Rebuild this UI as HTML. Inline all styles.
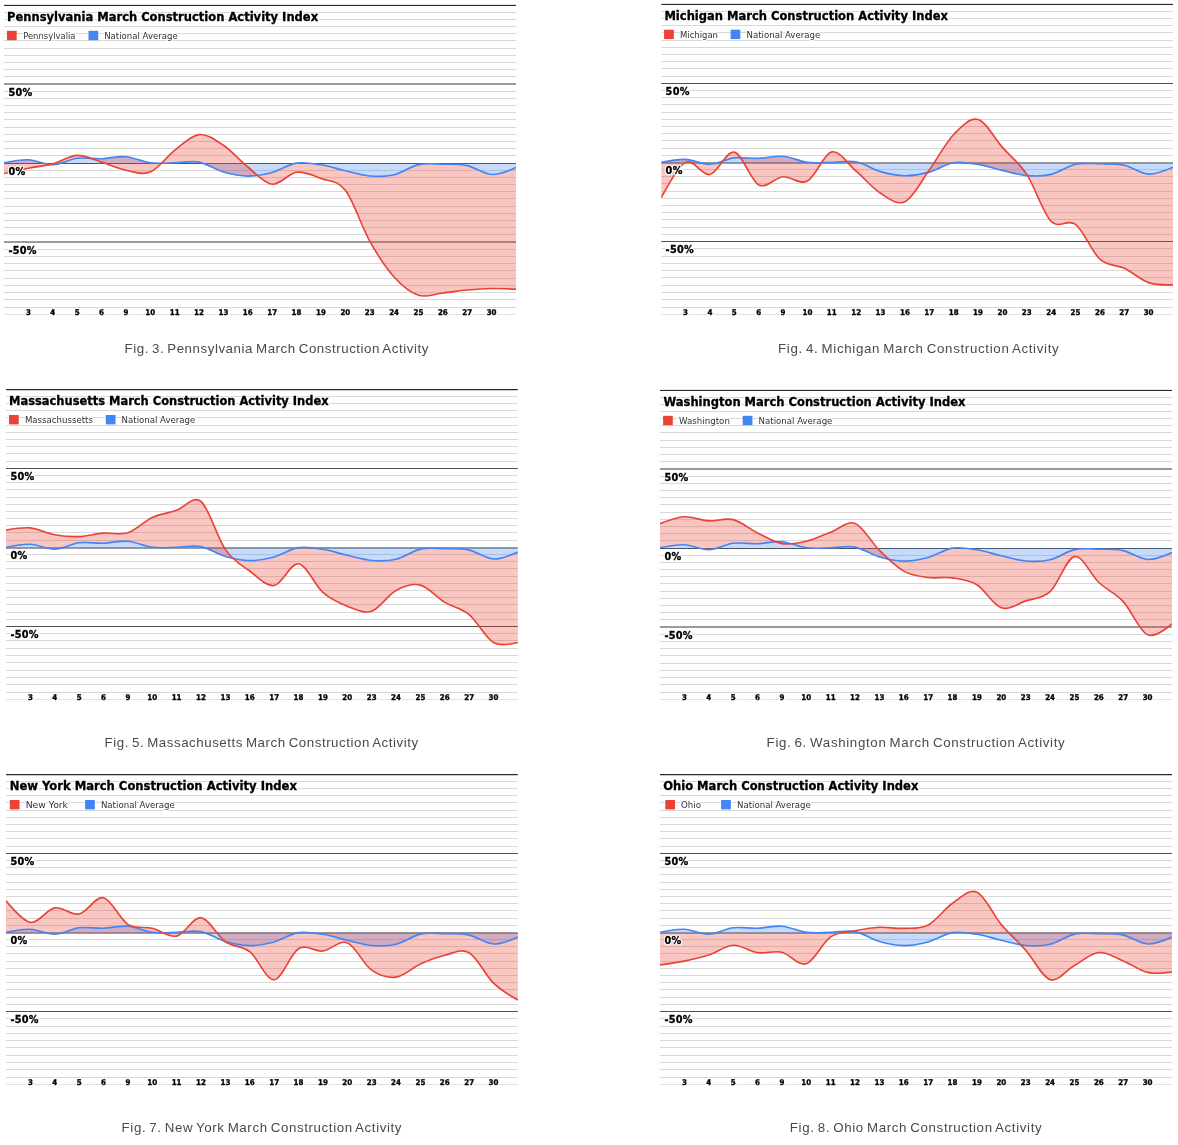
<!DOCTYPE html>
<html lang="en"><head><meta charset="utf-8"><title>March Construction Activity</title><style>
html,body{margin:0;padding:0;background:#fff;}
svg{display:block;position:absolute;left:0;top:0;}
text{font-family:"DejaVu Sans","Liberation Sans",sans-serif;fill:#000;}
.hl{stroke:#fff;stroke-width:2.4px;stroke-linejoin:round;}
.bd{stroke:#000;stroke-width:0.32px;}
.halo{paint-order:stroke;stroke:#fff;stroke-width:2px;stroke-linejoin:round;}
.ttl{font-family:"DejaVu Sans Condensed","DejaVu Sans","Liberation Sans",sans-serif;font-weight:bold;font-size:13px;}
.leg{font-family:"DejaVu Sans Condensed","DejaVu Sans","Liberation Sans",sans-serif;font-size:9.3px;fill:#303030;}
.yl{font-family:"DejaVu Sans","Liberation Sans",sans-serif;font-weight:bold;font-size:9.7px;letter-spacing:0.3px;}
.xl{font-family:"DejaVu Sans Condensed","DejaVu Sans","Liberation Sans",sans-serif;font-weight:bold;font-size:7.9px;text-anchor:middle;}
.cap{font-family:"Liberation Sans",sans-serif;font-size:13.3px;fill:#4a4a4a;word-spacing:-1.2px;}
</style></head><body>
<svg width="1178" height="1145" viewBox="0 0 1178 1145">
<clipPath id="clip0"><rect x="4.00" y="4.60" width="512.00" height="310.15"/></clipPath>
<g clip-path="url(#clip0)">
<line x1="4.00" x2="516.00" y1="12.5" y2="12.5" stroke="#d8d8d8" stroke-width="1"/>
<line x1="4.00" x2="516.00" y1="19.5" y2="19.5" stroke="#d8d8d8" stroke-width="1"/>
<line x1="4.00" x2="516.00" y1="26.5" y2="26.5" stroke="#d8d8d8" stroke-width="1"/>
<line x1="4.00" x2="516.00" y1="33.5" y2="33.5" stroke="#d8d8d8" stroke-width="1"/>
<line x1="4.00" x2="516.00" y1="40.5" y2="40.5" stroke="#d8d8d8" stroke-width="1"/>
<line x1="4.00" x2="516.00" y1="48.5" y2="48.5" stroke="#d8d8d8" stroke-width="1"/>
<line x1="4.00" x2="516.00" y1="55.5" y2="55.5" stroke="#d8d8d8" stroke-width="1"/>
<line x1="4.00" x2="516.00" y1="62.5" y2="62.5" stroke="#d8d8d8" stroke-width="1"/>
<line x1="4.00" x2="516.00" y1="69.5" y2="69.5" stroke="#d8d8d8" stroke-width="1"/>
<line x1="4.00" x2="516.00" y1="76.5" y2="76.5" stroke="#d8d8d8" stroke-width="1"/>
<line x1="4.00" x2="516.00" y1="91.5" y2="91.5" stroke="#d8d8d8" stroke-width="1"/>
<line x1="4.00" x2="516.00" y1="98.5" y2="98.5" stroke="#d8d8d8" stroke-width="1"/>
<line x1="4.00" x2="516.00" y1="105.5" y2="105.5" stroke="#d8d8d8" stroke-width="1"/>
<line x1="4.00" x2="516.00" y1="112.5" y2="112.5" stroke="#d8d8d8" stroke-width="1"/>
<line x1="4.00" x2="516.00" y1="119.5" y2="119.5" stroke="#d8d8d8" stroke-width="1"/>
<line x1="4.00" x2="516.00" y1="127.5" y2="127.5" stroke="#d8d8d8" stroke-width="1"/>
<line x1="4.00" x2="516.00" y1="134.5" y2="134.5" stroke="#d8d8d8" stroke-width="1"/>
<line x1="4.00" x2="516.00" y1="141.5" y2="141.5" stroke="#d8d8d8" stroke-width="1"/>
<line x1="4.00" x2="516.00" y1="148.5" y2="148.5" stroke="#d8d8d8" stroke-width="1"/>
<line x1="4.00" x2="516.00" y1="155.5" y2="155.5" stroke="#d8d8d8" stroke-width="1"/>
<line x1="4.00" x2="516.00" y1="170.5" y2="170.5" stroke="#d8d8d8" stroke-width="1"/>
<line x1="4.00" x2="516.00" y1="177.5" y2="177.5" stroke="#d8d8d8" stroke-width="1"/>
<line x1="4.00" x2="516.00" y1="184.5" y2="184.5" stroke="#d8d8d8" stroke-width="1"/>
<line x1="4.00" x2="516.00" y1="191.5" y2="191.5" stroke="#d8d8d8" stroke-width="1"/>
<line x1="4.00" x2="516.00" y1="198.5" y2="198.5" stroke="#d8d8d8" stroke-width="1"/>
<line x1="4.00" x2="516.00" y1="206.5" y2="206.5" stroke="#d8d8d8" stroke-width="1"/>
<line x1="4.00" x2="516.00" y1="213.5" y2="213.5" stroke="#d8d8d8" stroke-width="1"/>
<line x1="4.00" x2="516.00" y1="220.5" y2="220.5" stroke="#d8d8d8" stroke-width="1"/>
<line x1="4.00" x2="516.00" y1="227.5" y2="227.5" stroke="#d8d8d8" stroke-width="1"/>
<line x1="4.00" x2="516.00" y1="234.5" y2="234.5" stroke="#d8d8d8" stroke-width="1"/>
<line x1="4.00" x2="516.00" y1="249.5" y2="249.5" stroke="#d8d8d8" stroke-width="1"/>
<line x1="4.00" x2="516.00" y1="256.5" y2="256.5" stroke="#d8d8d8" stroke-width="1"/>
<line x1="4.00" x2="516.00" y1="263.5" y2="263.5" stroke="#d8d8d8" stroke-width="1"/>
<line x1="4.00" x2="516.00" y1="270.5" y2="270.5" stroke="#d8d8d8" stroke-width="1"/>
<line x1="4.00" x2="516.00" y1="278.5" y2="278.5" stroke="#d8d8d8" stroke-width="1"/>
<line x1="4.00" x2="516.00" y1="285.5" y2="285.5" stroke="#d8d8d8" stroke-width="1"/>
<line x1="4.00" x2="516.00" y1="292.5" y2="292.5" stroke="#d8d8d8" stroke-width="1"/>
<line x1="4.00" x2="516.00" y1="299.5" y2="299.5" stroke="#d8d8d8" stroke-width="1"/>
<line x1="4.00" x2="516.00" y1="307.5" y2="307.5" stroke="#d8d8d8" stroke-width="1"/>
<line x1="4.00" x2="516.00" y1="314.5" y2="314.5" stroke="#d8d8d8" stroke-width="1"/>
<line x1="4.00" x2="516.00" y1="5.40" y2="5.40" stroke="#2a2a2a" stroke-width="1.3"/>
<line x1="4.00" x2="516.00" y1="84.00" y2="84.00" stroke="#9a9a9a" stroke-width="1.9"/>
<line x1="4.00" x2="516.00" y1="242.00" y2="242.00" stroke="#9a9a9a" stroke-width="1.9"/>
<line x1="4.00" x2="516.00" y1="163.50" y2="163.50" stroke="#505050" stroke-width="1"/>
<path d="M4.00,162.80C4.00,162.80 20.25,159.48 28.38,159.80C36.51,160.12 44.63,164.95 52.76,164.70C60.89,164.45 69.02,159.30 77.14,158.30C85.27,157.30 93.40,158.97 101.52,158.70C109.65,158.43 117.78,156.02 125.90,156.70C134.03,157.38 142.16,161.78 150.29,162.80C158.41,163.82 166.54,162.92 174.67,162.80C182.79,162.68 190.92,160.57 199.05,162.10C207.17,163.63 215.30,169.67 223.43,172.00C231.56,174.33 239.68,176.02 247.81,176.10C255.94,176.18 264.06,174.67 272.19,172.50C280.32,170.33 288.44,164.38 296.57,163.10C304.70,161.82 312.83,163.52 320.95,164.80C329.08,166.08 337.21,168.93 345.33,170.80C353.46,172.67 361.59,175.33 369.71,176.00C377.84,176.67 385.97,176.70 394.10,174.80C402.22,172.90 410.35,166.37 418.48,164.60C426.60,162.83 434.73,164.03 442.86,164.20C450.98,164.37 459.11,163.88 467.24,165.60C475.37,167.32 483.49,174.17 491.62,174.50C499.75,174.83 516.00,167.60 516.00,167.60L516.00,163.30L4.00,163.30Z" fill="#4285f4" fill-opacity="0.3"/>
<path d="M4.00,173.50C4.00,173.50 20.25,169.80 28.38,168.20C36.51,166.60 44.63,166.03 52.76,163.90C60.89,161.77 69.02,155.70 77.14,155.40C85.27,155.10 93.40,159.63 101.52,162.10C109.65,164.57 117.78,168.53 125.90,170.20C134.03,171.87 142.16,175.42 150.29,172.10C158.41,168.78 166.54,156.55 174.67,150.30C182.79,144.05 190.92,135.43 199.05,134.60C207.17,133.77 215.30,139.90 223.43,145.30C231.56,150.70 239.68,160.52 247.81,167.00C255.94,173.48 264.06,183.32 272.19,184.20C280.32,185.08 288.44,173.27 296.57,172.30C304.70,171.33 312.83,175.40 320.95,178.40C329.08,181.40 337.21,179.85 345.33,190.30C353.46,200.75 361.59,226.65 369.71,241.10C377.84,255.55 385.97,267.97 394.10,277.00C402.22,286.03 410.35,292.63 418.48,295.30C426.60,297.97 434.73,293.88 442.86,293.00C450.98,292.12 459.11,290.75 467.24,290.00C475.37,289.25 483.49,288.63 491.62,288.50C499.75,288.37 516.00,289.20 516.00,289.20L516.00,167.60C516.00,167.60 499.75,174.83 491.62,174.50C483.49,174.17 475.37,167.32 467.24,165.60C459.11,163.88 450.98,164.37 442.86,164.20C434.73,164.03 426.60,162.83 418.48,164.60C410.35,166.37 402.22,172.90 394.10,174.80C385.97,176.70 377.84,176.67 369.71,176.00C361.59,175.33 353.46,172.67 345.33,170.80C337.21,168.93 329.08,166.08 320.95,164.80C312.83,163.52 304.70,161.82 296.57,163.10C288.44,164.38 280.32,170.33 272.19,172.50C264.06,174.67 255.94,176.18 247.81,176.10C239.68,176.02 231.56,174.33 223.43,172.00C215.30,169.67 207.17,163.63 199.05,162.10C190.92,160.57 182.79,162.68 174.67,162.80C166.54,162.92 158.41,163.82 150.29,162.80C142.16,161.78 134.03,157.38 125.90,156.70C117.78,156.02 109.65,158.43 101.52,158.70C93.40,158.97 85.27,157.30 77.14,158.30C69.02,159.30 60.89,164.45 52.76,164.70C44.63,164.95 36.51,160.12 28.38,159.80C20.25,159.48 4.00,162.80 4.00,162.80Z" fill="#ea4335" fill-opacity="0.3"/>
<path d="M4.00,162.80C4.00,162.80 20.25,159.48 28.38,159.80C36.51,160.12 44.63,164.95 52.76,164.70C60.89,164.45 69.02,159.30 77.14,158.30C85.27,157.30 93.40,158.97 101.52,158.70C109.65,158.43 117.78,156.02 125.90,156.70C134.03,157.38 142.16,161.78 150.29,162.80C158.41,163.82 166.54,162.92 174.67,162.80C182.79,162.68 190.92,160.57 199.05,162.10C207.17,163.63 215.30,169.67 223.43,172.00C231.56,174.33 239.68,176.02 247.81,176.10C255.94,176.18 264.06,174.67 272.19,172.50C280.32,170.33 288.44,164.38 296.57,163.10C304.70,161.82 312.83,163.52 320.95,164.80C329.08,166.08 337.21,168.93 345.33,170.80C353.46,172.67 361.59,175.33 369.71,176.00C377.84,176.67 385.97,176.70 394.10,174.80C402.22,172.90 410.35,166.37 418.48,164.60C426.60,162.83 434.73,164.03 442.86,164.20C450.98,164.37 459.11,163.88 467.24,165.60C475.37,167.32 483.49,174.17 491.62,174.50C499.75,174.83 516.00,167.60 516.00,167.60" fill="none" stroke="#4285f4" stroke-width="1.65" stroke-linejoin="round"/>
<path d="M4.00,173.50C4.00,173.50 20.25,169.80 28.38,168.20C36.51,166.60 44.63,166.03 52.76,163.90C60.89,161.77 69.02,155.70 77.14,155.40C85.27,155.10 93.40,159.63 101.52,162.10C109.65,164.57 117.78,168.53 125.90,170.20C134.03,171.87 142.16,175.42 150.29,172.10C158.41,168.78 166.54,156.55 174.67,150.30C182.79,144.05 190.92,135.43 199.05,134.60C207.17,133.77 215.30,139.90 223.43,145.30C231.56,150.70 239.68,160.52 247.81,167.00C255.94,173.48 264.06,183.32 272.19,184.20C280.32,185.08 288.44,173.27 296.57,172.30C304.70,171.33 312.83,175.40 320.95,178.40C329.08,181.40 337.21,179.85 345.33,190.30C353.46,200.75 361.59,226.65 369.71,241.10C377.84,255.55 385.97,267.97 394.10,277.00C402.22,286.03 410.35,292.63 418.48,295.30C426.60,297.97 434.73,293.88 442.86,293.00C450.98,292.12 459.11,290.75 467.24,290.00C475.37,289.25 483.49,288.63 491.62,288.50C499.75,288.37 516.00,289.20 516.00,289.20" fill="none" stroke="#ea4335" stroke-width="1.65" stroke-linejoin="round"/>
</g>
<g class="hl"><use href="#txt0"/></g>
<g class="bd"><g id="txt0">
<text class="ttl" x="7.00" y="21.10" textLength="311.1" lengthAdjust="spacingAndGlyphs">Pennsylvania March Construction Activity Index</text>
<text class="yl" x="8.40" y="95.60">50%</text>
<text class="yl" x="8.40" y="174.60">0%</text>
<text class="yl" x="8.40" y="253.60">-50%</text>
<text class="xl" x="28.38" y="315.00">3</text>
<text class="xl" x="52.76" y="315.00">4</text>
<text class="xl" x="77.14" y="315.00">5</text>
<text class="xl" x="101.52" y="315.00">6</text>
<text class="xl" x="125.90" y="315.00">9</text>
<text class="xl" x="150.29" y="315.00">10</text>
<text class="xl" x="174.67" y="315.00">11</text>
<text class="xl" x="199.05" y="315.00">12</text>
<text class="xl" x="223.43" y="315.00">13</text>
<text class="xl" x="247.81" y="315.00">16</text>
<text class="xl" x="272.19" y="315.00">17</text>
<text class="xl" x="296.57" y="315.00">18</text>
<text class="xl" x="320.95" y="315.00">19</text>
<text class="xl" x="345.33" y="315.00">20</text>
<text class="xl" x="369.71" y="315.00">23</text>
<text class="xl" x="394.10" y="315.00">24</text>
<text class="xl" x="418.48" y="315.00">25</text>
<text class="xl" x="442.86" y="315.00">26</text>
<text class="xl" x="467.24" y="315.00">27</text>
<text class="xl" x="491.62" y="315.00">30</text>
</g></g>
<rect x="7.00" y="30.80" width="9.7" height="9.4" fill="#ea4335"/>
<text class="leg halo" x="23.20" y="38.70" textLength="52.3" lengthAdjust="spacingAndGlyphs">Pennsylvalia</text>
<rect x="88.50" y="30.80" width="9.7" height="9.4" fill="#4285f4"/>
<text class="leg halo" x="104.20" y="38.70" textLength="73.5" lengthAdjust="spacingAndGlyphs">National Average</text>
<text class="cap" x="124.60" y="353.00" textLength="303.7" lengthAdjust="spacing">Fig. 3. Pennsylvania March Construction Activity</text>
<clipPath id="clip1"><rect x="661.20" y="3.50" width="511.80" height="311.25"/></clipPath>
<g clip-path="url(#clip1)">
<line x1="661.20" x2="1173.00" y1="11.5" y2="11.5" stroke="#d8d8d8" stroke-width="1"/>
<line x1="661.20" x2="1173.00" y1="18.5" y2="18.5" stroke="#d8d8d8" stroke-width="1"/>
<line x1="661.20" x2="1173.00" y1="25.5" y2="25.5" stroke="#d8d8d8" stroke-width="1"/>
<line x1="661.20" x2="1173.00" y1="32.5" y2="32.5" stroke="#d8d8d8" stroke-width="1"/>
<line x1="661.20" x2="1173.00" y1="40.5" y2="40.5" stroke="#d8d8d8" stroke-width="1"/>
<line x1="661.20" x2="1173.00" y1="47.5" y2="47.5" stroke="#d8d8d8" stroke-width="1"/>
<line x1="661.20" x2="1173.00" y1="54.5" y2="54.5" stroke="#d8d8d8" stroke-width="1"/>
<line x1="661.20" x2="1173.00" y1="61.5" y2="61.5" stroke="#d8d8d8" stroke-width="1"/>
<line x1="661.20" x2="1173.00" y1="68.5" y2="68.5" stroke="#d8d8d8" stroke-width="1"/>
<line x1="661.20" x2="1173.00" y1="76.5" y2="76.5" stroke="#d8d8d8" stroke-width="1"/>
<line x1="661.20" x2="1173.00" y1="90.5" y2="90.5" stroke="#d8d8d8" stroke-width="1"/>
<line x1="661.20" x2="1173.00" y1="97.5" y2="97.5" stroke="#d8d8d8" stroke-width="1"/>
<line x1="661.20" x2="1173.00" y1="104.5" y2="104.5" stroke="#d8d8d8" stroke-width="1"/>
<line x1="661.20" x2="1173.00" y1="112.5" y2="112.5" stroke="#d8d8d8" stroke-width="1"/>
<line x1="661.20" x2="1173.00" y1="119.5" y2="119.5" stroke="#d8d8d8" stroke-width="1"/>
<line x1="661.20" x2="1173.00" y1="126.5" y2="126.5" stroke="#d8d8d8" stroke-width="1"/>
<line x1="661.20" x2="1173.00" y1="133.5" y2="133.5" stroke="#d8d8d8" stroke-width="1"/>
<line x1="661.20" x2="1173.00" y1="140.5" y2="140.5" stroke="#d8d8d8" stroke-width="1"/>
<line x1="661.20" x2="1173.00" y1="148.5" y2="148.5" stroke="#d8d8d8" stroke-width="1"/>
<line x1="661.20" x2="1173.00" y1="155.5" y2="155.5" stroke="#d8d8d8" stroke-width="1"/>
<line x1="661.20" x2="1173.00" y1="169.5" y2="169.5" stroke="#d8d8d8" stroke-width="1"/>
<line x1="661.20" x2="1173.00" y1="176.5" y2="176.5" stroke="#d8d8d8" stroke-width="1"/>
<line x1="661.20" x2="1173.00" y1="183.5" y2="183.5" stroke="#d8d8d8" stroke-width="1"/>
<line x1="661.20" x2="1173.00" y1="191.5" y2="191.5" stroke="#d8d8d8" stroke-width="1"/>
<line x1="661.20" x2="1173.00" y1="198.5" y2="198.5" stroke="#d8d8d8" stroke-width="1"/>
<line x1="661.20" x2="1173.00" y1="205.5" y2="205.5" stroke="#d8d8d8" stroke-width="1"/>
<line x1="661.20" x2="1173.00" y1="212.5" y2="212.5" stroke="#d8d8d8" stroke-width="1"/>
<line x1="661.20" x2="1173.00" y1="219.5" y2="219.5" stroke="#d8d8d8" stroke-width="1"/>
<line x1="661.20" x2="1173.00" y1="227.5" y2="227.5" stroke="#d8d8d8" stroke-width="1"/>
<line x1="661.20" x2="1173.00" y1="234.5" y2="234.5" stroke="#d8d8d8" stroke-width="1"/>
<line x1="661.20" x2="1173.00" y1="248.5" y2="248.5" stroke="#d8d8d8" stroke-width="1"/>
<line x1="661.20" x2="1173.00" y1="256.5" y2="256.5" stroke="#d8d8d8" stroke-width="1"/>
<line x1="661.20" x2="1173.00" y1="263.5" y2="263.5" stroke="#d8d8d8" stroke-width="1"/>
<line x1="661.20" x2="1173.00" y1="270.5" y2="270.5" stroke="#d8d8d8" stroke-width="1"/>
<line x1="661.20" x2="1173.00" y1="277.5" y2="277.5" stroke="#d8d8d8" stroke-width="1"/>
<line x1="661.20" x2="1173.00" y1="285.5" y2="285.5" stroke="#d8d8d8" stroke-width="1"/>
<line x1="661.20" x2="1173.00" y1="292.5" y2="292.5" stroke="#d8d8d8" stroke-width="1"/>
<line x1="661.20" x2="1173.00" y1="299.5" y2="299.5" stroke="#d8d8d8" stroke-width="1"/>
<line x1="661.20" x2="1173.00" y1="307.5" y2="307.5" stroke="#d8d8d8" stroke-width="1"/>
<line x1="661.20" x2="1173.00" y1="314.5" y2="314.5" stroke="#d8d8d8" stroke-width="1"/>
<line x1="661.20" x2="1173.00" y1="4.30" y2="4.30" stroke="#2a2a2a" stroke-width="1.3"/>
<line x1="661.20" x2="1173.00" y1="83.50" y2="83.50" stroke="#505050" stroke-width="1"/>
<line x1="661.20" x2="1173.00" y1="241.50" y2="241.50" stroke="#505050" stroke-width="1"/>
<line x1="661.20" x2="1173.00" y1="163.00" y2="163.00" stroke="#9a9a9a" stroke-width="1.9"/>
<path d="M661.20,162.40C661.20,162.40 677.45,159.08 685.57,159.40C693.70,159.72 701.82,164.55 709.94,164.30C718.07,164.05 726.19,158.90 734.31,157.90C742.44,156.90 750.56,158.57 758.69,158.30C766.81,158.03 774.93,155.62 783.06,156.30C791.18,156.98 799.30,161.38 807.43,162.40C815.55,163.42 823.68,162.52 831.80,162.40C839.92,162.28 848.05,160.17 856.17,161.70C864.30,163.23 872.42,169.27 880.54,171.60C888.67,173.93 896.79,175.62 904.91,175.70C913.04,175.78 921.16,174.27 929.29,172.10C937.41,169.93 945.53,163.98 953.66,162.70C961.78,161.42 969.90,163.12 978.03,164.40C986.15,165.68 994.28,168.53 1002.40,170.40C1010.52,172.27 1018.65,174.93 1026.77,175.60C1034.90,176.27 1043.02,176.30 1051.14,174.40C1059.27,172.50 1067.39,165.97 1075.51,164.20C1083.64,162.43 1091.76,163.63 1099.89,163.80C1108.01,163.97 1116.13,163.48 1124.26,165.20C1132.38,166.92 1140.50,173.77 1148.63,174.10C1156.75,174.43 1173.00,167.20 1173.00,167.20L1173.00,162.90L661.20,162.90Z" fill="#4285f4" fill-opacity="0.3"/>
<path d="M661.20,197.90C661.20,197.90 677.45,166.20 685.57,162.30C693.70,158.40 701.82,176.20 709.94,174.50C718.07,172.80 726.19,150.37 734.31,152.10C742.44,153.83 750.56,180.78 758.69,184.90C766.81,189.02 774.93,177.43 783.06,176.80C791.18,176.17 799.30,185.25 807.43,181.10C815.55,176.95 823.68,153.55 831.80,151.90C839.92,150.25 848.05,164.30 856.17,171.20C864.30,178.10 872.42,188.22 880.54,193.30C888.67,198.38 896.79,205.57 904.91,201.70C913.04,197.83 921.16,181.30 929.29,170.10C937.41,158.90 945.53,142.93 953.66,134.50C961.78,126.07 969.90,117.35 978.03,119.50C986.15,121.65 994.28,138.25 1002.40,147.40C1010.52,156.55 1018.65,162.07 1026.77,174.40C1034.90,186.73 1043.02,213.07 1051.14,221.40C1059.27,229.73 1067.39,218.10 1075.51,224.40C1083.64,230.70 1091.76,251.88 1099.89,259.20C1108.01,266.52 1116.13,264.40 1124.26,268.30C1132.38,272.20 1140.50,279.85 1148.63,282.60C1156.75,285.35 1173.00,284.80 1173.00,284.80L1173.00,167.20C1173.00,167.20 1156.75,174.43 1148.63,174.10C1140.50,173.77 1132.38,166.92 1124.26,165.20C1116.13,163.48 1108.01,163.97 1099.89,163.80C1091.76,163.63 1083.64,162.43 1075.51,164.20C1067.39,165.97 1059.27,172.50 1051.14,174.40C1043.02,176.30 1034.90,176.27 1026.77,175.60C1018.65,174.93 1010.52,172.27 1002.40,170.40C994.28,168.53 986.15,165.68 978.03,164.40C969.90,163.12 961.78,161.42 953.66,162.70C945.53,163.98 937.41,169.93 929.29,172.10C921.16,174.27 913.04,175.78 904.91,175.70C896.79,175.62 888.67,173.93 880.54,171.60C872.42,169.27 864.30,163.23 856.17,161.70C848.05,160.17 839.92,162.28 831.80,162.40C823.68,162.52 815.55,163.42 807.43,162.40C799.30,161.38 791.18,156.98 783.06,156.30C774.93,155.62 766.81,158.03 758.69,158.30C750.56,158.57 742.44,156.90 734.31,157.90C726.19,158.90 718.07,164.05 709.94,164.30C701.82,164.55 693.70,159.72 685.57,159.40C677.45,159.08 661.20,162.40 661.20,162.40Z" fill="#ea4335" fill-opacity="0.3"/>
<path d="M661.20,162.40C661.20,162.40 677.45,159.08 685.57,159.40C693.70,159.72 701.82,164.55 709.94,164.30C718.07,164.05 726.19,158.90 734.31,157.90C742.44,156.90 750.56,158.57 758.69,158.30C766.81,158.03 774.93,155.62 783.06,156.30C791.18,156.98 799.30,161.38 807.43,162.40C815.55,163.42 823.68,162.52 831.80,162.40C839.92,162.28 848.05,160.17 856.17,161.70C864.30,163.23 872.42,169.27 880.54,171.60C888.67,173.93 896.79,175.62 904.91,175.70C913.04,175.78 921.16,174.27 929.29,172.10C937.41,169.93 945.53,163.98 953.66,162.70C961.78,161.42 969.90,163.12 978.03,164.40C986.15,165.68 994.28,168.53 1002.40,170.40C1010.52,172.27 1018.65,174.93 1026.77,175.60C1034.90,176.27 1043.02,176.30 1051.14,174.40C1059.27,172.50 1067.39,165.97 1075.51,164.20C1083.64,162.43 1091.76,163.63 1099.89,163.80C1108.01,163.97 1116.13,163.48 1124.26,165.20C1132.38,166.92 1140.50,173.77 1148.63,174.10C1156.75,174.43 1173.00,167.20 1173.00,167.20" fill="none" stroke="#4285f4" stroke-width="1.65" stroke-linejoin="round"/>
<path d="M661.20,197.90C661.20,197.90 677.45,166.20 685.57,162.30C693.70,158.40 701.82,176.20 709.94,174.50C718.07,172.80 726.19,150.37 734.31,152.10C742.44,153.83 750.56,180.78 758.69,184.90C766.81,189.02 774.93,177.43 783.06,176.80C791.18,176.17 799.30,185.25 807.43,181.10C815.55,176.95 823.68,153.55 831.80,151.90C839.92,150.25 848.05,164.30 856.17,171.20C864.30,178.10 872.42,188.22 880.54,193.30C888.67,198.38 896.79,205.57 904.91,201.70C913.04,197.83 921.16,181.30 929.29,170.10C937.41,158.90 945.53,142.93 953.66,134.50C961.78,126.07 969.90,117.35 978.03,119.50C986.15,121.65 994.28,138.25 1002.40,147.40C1010.52,156.55 1018.65,162.07 1026.77,174.40C1034.90,186.73 1043.02,213.07 1051.14,221.40C1059.27,229.73 1067.39,218.10 1075.51,224.40C1083.64,230.70 1091.76,251.88 1099.89,259.20C1108.01,266.52 1116.13,264.40 1124.26,268.30C1132.38,272.20 1140.50,279.85 1148.63,282.60C1156.75,285.35 1173.00,284.80 1173.00,284.80" fill="none" stroke="#ea4335" stroke-width="1.65" stroke-linejoin="round"/>
</g>
<g class="hl"><use href="#txt1"/></g>
<g class="bd"><g id="txt1">
<text class="ttl" x="664.40" y="20.00" textLength="283.5" lengthAdjust="spacingAndGlyphs">Michigan March Construction Activity Index</text>
<text class="yl" x="665.60" y="94.90">50%</text>
<text class="yl" x="665.60" y="174.00">0%</text>
<text class="yl" x="665.60" y="253.10">-50%</text>
<text class="xl" x="685.57" y="315.00">3</text>
<text class="xl" x="709.94" y="315.00">4</text>
<text class="xl" x="734.31" y="315.00">5</text>
<text class="xl" x="758.69" y="315.00">6</text>
<text class="xl" x="783.06" y="315.00">9</text>
<text class="xl" x="807.43" y="315.00">10</text>
<text class="xl" x="831.80" y="315.00">11</text>
<text class="xl" x="856.17" y="315.00">12</text>
<text class="xl" x="880.54" y="315.00">13</text>
<text class="xl" x="904.91" y="315.00">16</text>
<text class="xl" x="929.29" y="315.00">17</text>
<text class="xl" x="953.66" y="315.00">18</text>
<text class="xl" x="978.03" y="315.00">19</text>
<text class="xl" x="1002.40" y="315.00">20</text>
<text class="xl" x="1026.77" y="315.00">23</text>
<text class="xl" x="1051.14" y="315.00">24</text>
<text class="xl" x="1075.51" y="315.00">25</text>
<text class="xl" x="1099.89" y="315.00">26</text>
<text class="xl" x="1124.26" y="315.00">27</text>
<text class="xl" x="1148.63" y="315.00">30</text>
</g></g>
<rect x="664.10" y="29.70" width="9.7" height="9.4" fill="#ea4335"/>
<text class="leg halo" x="680.00" y="37.60" textLength="38.0" lengthAdjust="spacingAndGlyphs">Michigan</text>
<rect x="730.60" y="29.70" width="9.7" height="9.4" fill="#4285f4"/>
<text class="leg halo" x="746.50" y="37.60" textLength="73.7" lengthAdjust="spacingAndGlyphs">National Average</text>
<text class="cap" x="778.00" y="353.00" textLength="280.7" lengthAdjust="spacing">Fig. 4. Michigan March Construction Activity</text>
<clipPath id="clip2"><rect x="6.00" y="388.80" width="511.90" height="310.95"/></clipPath>
<g clip-path="url(#clip2)">
<line x1="6.00" x2="517.90" y1="396.5" y2="396.5" stroke="#d8d8d8" stroke-width="1"/>
<line x1="6.00" x2="517.90" y1="403.5" y2="403.5" stroke="#d8d8d8" stroke-width="1"/>
<line x1="6.00" x2="517.90" y1="410.5" y2="410.5" stroke="#d8d8d8" stroke-width="1"/>
<line x1="6.00" x2="517.90" y1="417.5" y2="417.5" stroke="#d8d8d8" stroke-width="1"/>
<line x1="6.00" x2="517.90" y1="425.5" y2="425.5" stroke="#d8d8d8" stroke-width="1"/>
<line x1="6.00" x2="517.90" y1="432.5" y2="432.5" stroke="#d8d8d8" stroke-width="1"/>
<line x1="6.00" x2="517.90" y1="439.5" y2="439.5" stroke="#d8d8d8" stroke-width="1"/>
<line x1="6.00" x2="517.90" y1="446.5" y2="446.5" stroke="#d8d8d8" stroke-width="1"/>
<line x1="6.00" x2="517.90" y1="453.5" y2="453.5" stroke="#d8d8d8" stroke-width="1"/>
<line x1="6.00" x2="517.90" y1="461.5" y2="461.5" stroke="#d8d8d8" stroke-width="1"/>
<line x1="6.00" x2="517.90" y1="475.5" y2="475.5" stroke="#d8d8d8" stroke-width="1"/>
<line x1="6.00" x2="517.90" y1="482.5" y2="482.5" stroke="#d8d8d8" stroke-width="1"/>
<line x1="6.00" x2="517.90" y1="489.5" y2="489.5" stroke="#d8d8d8" stroke-width="1"/>
<line x1="6.00" x2="517.90" y1="497.5" y2="497.5" stroke="#d8d8d8" stroke-width="1"/>
<line x1="6.00" x2="517.90" y1="504.5" y2="504.5" stroke="#d8d8d8" stroke-width="1"/>
<line x1="6.00" x2="517.90" y1="511.5" y2="511.5" stroke="#d8d8d8" stroke-width="1"/>
<line x1="6.00" x2="517.90" y1="518.5" y2="518.5" stroke="#d8d8d8" stroke-width="1"/>
<line x1="6.00" x2="517.90" y1="525.5" y2="525.5" stroke="#d8d8d8" stroke-width="1"/>
<line x1="6.00" x2="517.90" y1="532.5" y2="532.5" stroke="#d8d8d8" stroke-width="1"/>
<line x1="6.00" x2="517.90" y1="540.5" y2="540.5" stroke="#d8d8d8" stroke-width="1"/>
<line x1="6.00" x2="517.90" y1="554.5" y2="554.5" stroke="#d8d8d8" stroke-width="1"/>
<line x1="6.00" x2="517.90" y1="561.5" y2="561.5" stroke="#d8d8d8" stroke-width="1"/>
<line x1="6.00" x2="517.90" y1="568.5" y2="568.5" stroke="#d8d8d8" stroke-width="1"/>
<line x1="6.00" x2="517.90" y1="576.5" y2="576.5" stroke="#d8d8d8" stroke-width="1"/>
<line x1="6.00" x2="517.90" y1="583.5" y2="583.5" stroke="#d8d8d8" stroke-width="1"/>
<line x1="6.00" x2="517.90" y1="590.5" y2="590.5" stroke="#d8d8d8" stroke-width="1"/>
<line x1="6.00" x2="517.90" y1="597.5" y2="597.5" stroke="#d8d8d8" stroke-width="1"/>
<line x1="6.00" x2="517.90" y1="604.5" y2="604.5" stroke="#d8d8d8" stroke-width="1"/>
<line x1="6.00" x2="517.90" y1="612.5" y2="612.5" stroke="#d8d8d8" stroke-width="1"/>
<line x1="6.00" x2="517.90" y1="619.5" y2="619.5" stroke="#d8d8d8" stroke-width="1"/>
<line x1="6.00" x2="517.90" y1="633.5" y2="633.5" stroke="#d8d8d8" stroke-width="1"/>
<line x1="6.00" x2="517.90" y1="640.5" y2="640.5" stroke="#d8d8d8" stroke-width="1"/>
<line x1="6.00" x2="517.90" y1="648.5" y2="648.5" stroke="#d8d8d8" stroke-width="1"/>
<line x1="6.00" x2="517.90" y1="655.5" y2="655.5" stroke="#d8d8d8" stroke-width="1"/>
<line x1="6.00" x2="517.90" y1="662.5" y2="662.5" stroke="#d8d8d8" stroke-width="1"/>
<line x1="6.00" x2="517.90" y1="670.5" y2="670.5" stroke="#d8d8d8" stroke-width="1"/>
<line x1="6.00" x2="517.90" y1="677.5" y2="677.5" stroke="#d8d8d8" stroke-width="1"/>
<line x1="6.00" x2="517.90" y1="684.5" y2="684.5" stroke="#d8d8d8" stroke-width="1"/>
<line x1="6.00" x2="517.90" y1="692.5" y2="692.5" stroke="#d8d8d8" stroke-width="1"/>
<line x1="6.00" x2="517.90" y1="699.5" y2="699.5" stroke="#d8d8d8" stroke-width="1"/>
<line x1="6.00" x2="517.90" y1="389.60" y2="389.60" stroke="#2a2a2a" stroke-width="1.3"/>
<line x1="6.00" x2="517.90" y1="468.50" y2="468.50" stroke="#505050" stroke-width="1"/>
<line x1="6.00" x2="517.90" y1="626.50" y2="626.50" stroke="#505050" stroke-width="1"/>
<line x1="6.00" x2="517.90" y1="548.00" y2="548.00" stroke="#9a9a9a" stroke-width="1.9"/>
<path d="M6.00,547.30C6.00,547.30 22.25,543.98 30.38,544.30C38.50,544.62 46.63,549.45 54.75,549.20C62.88,548.95 71.00,543.80 79.13,542.80C87.25,541.80 95.38,543.47 103.50,543.20C111.63,542.93 119.76,540.52 127.88,541.20C136.01,541.88 144.13,546.28 152.26,547.30C160.38,548.32 168.51,547.42 176.63,547.30C184.76,547.18 192.88,545.07 201.01,546.60C209.13,548.13 217.26,554.17 225.39,556.50C233.51,558.83 241.64,560.52 249.76,560.60C257.89,560.68 266.01,559.17 274.14,557.00C282.26,554.83 290.39,548.88 298.51,547.60C306.64,546.32 314.77,548.02 322.89,549.30C331.02,550.58 339.14,553.43 347.27,555.30C355.39,557.17 363.52,559.83 371.64,560.50C379.77,561.17 387.89,561.20 396.02,559.30C404.14,557.40 412.27,550.87 420.40,549.10C428.52,547.33 436.65,548.53 444.77,548.70C452.90,548.87 461.02,548.38 469.15,550.10C477.27,551.82 485.40,558.67 493.52,559.00C501.65,559.33 517.90,552.10 517.90,552.10L517.90,547.80L6.00,547.80Z" fill="#4285f4" fill-opacity="0.3"/>
<path d="M6.00,530.20C6.00,530.20 22.25,527.13 30.38,527.90C38.50,528.67 46.63,533.35 54.75,534.80C62.88,536.25 71.00,536.88 79.13,536.60C87.25,536.32 95.38,533.73 103.50,533.10C111.63,532.47 119.76,535.40 127.88,532.80C136.01,530.20 144.13,521.25 152.26,517.50C160.38,513.75 168.51,512.97 176.63,510.30C184.76,507.63 192.88,494.95 201.01,501.50C209.13,508.05 217.26,538.02 225.39,549.60C233.51,561.18 241.64,565.02 249.76,571.00C257.89,576.98 266.01,586.70 274.14,585.50C282.26,584.30 290.39,562.65 298.51,563.80C306.64,564.95 314.77,585.33 322.89,592.40C331.02,599.47 339.14,603.07 347.27,606.20C355.39,609.33 363.52,613.83 371.64,611.20C379.77,608.57 387.89,594.75 396.02,590.40C404.14,586.05 412.27,583.10 420.40,585.10C428.52,587.10 436.65,597.48 444.77,602.40C452.90,607.32 461.02,607.92 469.15,614.60C477.27,621.28 485.40,637.85 493.52,642.50C501.65,647.15 517.90,642.50 517.90,642.50L517.90,552.10C517.90,552.10 501.65,559.33 493.52,559.00C485.40,558.67 477.27,551.82 469.15,550.10C461.02,548.38 452.90,548.87 444.77,548.70C436.65,548.53 428.52,547.33 420.40,549.10C412.27,550.87 404.14,557.40 396.02,559.30C387.89,561.20 379.77,561.17 371.64,560.50C363.52,559.83 355.39,557.17 347.27,555.30C339.14,553.43 331.02,550.58 322.89,549.30C314.77,548.02 306.64,546.32 298.51,547.60C290.39,548.88 282.26,554.83 274.14,557.00C266.01,559.17 257.89,560.68 249.76,560.60C241.64,560.52 233.51,558.83 225.39,556.50C217.26,554.17 209.13,548.13 201.01,546.60C192.88,545.07 184.76,547.18 176.63,547.30C168.51,547.42 160.38,548.32 152.26,547.30C144.13,546.28 136.01,541.88 127.88,541.20C119.76,540.52 111.63,542.93 103.50,543.20C95.38,543.47 87.25,541.80 79.13,542.80C71.00,543.80 62.88,548.95 54.75,549.20C46.63,549.45 38.50,544.62 30.38,544.30C22.25,543.98 6.00,547.30 6.00,547.30Z" fill="#ea4335" fill-opacity="0.3"/>
<path d="M6.00,547.30C6.00,547.30 22.25,543.98 30.38,544.30C38.50,544.62 46.63,549.45 54.75,549.20C62.88,548.95 71.00,543.80 79.13,542.80C87.25,541.80 95.38,543.47 103.50,543.20C111.63,542.93 119.76,540.52 127.88,541.20C136.01,541.88 144.13,546.28 152.26,547.30C160.38,548.32 168.51,547.42 176.63,547.30C184.76,547.18 192.88,545.07 201.01,546.60C209.13,548.13 217.26,554.17 225.39,556.50C233.51,558.83 241.64,560.52 249.76,560.60C257.89,560.68 266.01,559.17 274.14,557.00C282.26,554.83 290.39,548.88 298.51,547.60C306.64,546.32 314.77,548.02 322.89,549.30C331.02,550.58 339.14,553.43 347.27,555.30C355.39,557.17 363.52,559.83 371.64,560.50C379.77,561.17 387.89,561.20 396.02,559.30C404.14,557.40 412.27,550.87 420.40,549.10C428.52,547.33 436.65,548.53 444.77,548.70C452.90,548.87 461.02,548.38 469.15,550.10C477.27,551.82 485.40,558.67 493.52,559.00C501.65,559.33 517.90,552.10 517.90,552.10" fill="none" stroke="#4285f4" stroke-width="1.65" stroke-linejoin="round"/>
<path d="M6.00,530.20C6.00,530.20 22.25,527.13 30.38,527.90C38.50,528.67 46.63,533.35 54.75,534.80C62.88,536.25 71.00,536.88 79.13,536.60C87.25,536.32 95.38,533.73 103.50,533.10C111.63,532.47 119.76,535.40 127.88,532.80C136.01,530.20 144.13,521.25 152.26,517.50C160.38,513.75 168.51,512.97 176.63,510.30C184.76,507.63 192.88,494.95 201.01,501.50C209.13,508.05 217.26,538.02 225.39,549.60C233.51,561.18 241.64,565.02 249.76,571.00C257.89,576.98 266.01,586.70 274.14,585.50C282.26,584.30 290.39,562.65 298.51,563.80C306.64,564.95 314.77,585.33 322.89,592.40C331.02,599.47 339.14,603.07 347.27,606.20C355.39,609.33 363.52,613.83 371.64,611.20C379.77,608.57 387.89,594.75 396.02,590.40C404.14,586.05 412.27,583.10 420.40,585.10C428.52,587.10 436.65,597.48 444.77,602.40C452.90,607.32 461.02,607.92 469.15,614.60C477.27,621.28 485.40,637.85 493.52,642.50C501.65,647.15 517.90,642.50 517.90,642.50" fill="none" stroke="#ea4335" stroke-width="1.65" stroke-linejoin="round"/>
</g>
<g class="hl"><use href="#txt2"/></g>
<g class="bd"><g id="txt2">
<text class="ttl" x="9.10" y="405.30" textLength="319.5" lengthAdjust="spacingAndGlyphs">Massachusetts March Construction Activity Index</text>
<text class="yl" x="10.40" y="479.90">50%</text>
<text class="yl" x="10.40" y="558.95">0%</text>
<text class="yl" x="10.40" y="638.00">-50%</text>
<text class="xl" x="30.38" y="700.00">3</text>
<text class="xl" x="54.75" y="700.00">4</text>
<text class="xl" x="79.13" y="700.00">5</text>
<text class="xl" x="103.50" y="700.00">6</text>
<text class="xl" x="127.88" y="700.00">9</text>
<text class="xl" x="152.26" y="700.00">10</text>
<text class="xl" x="176.63" y="700.00">11</text>
<text class="xl" x="201.01" y="700.00">12</text>
<text class="xl" x="225.39" y="700.00">13</text>
<text class="xl" x="249.76" y="700.00">16</text>
<text class="xl" x="274.14" y="700.00">17</text>
<text class="xl" x="298.51" y="700.00">18</text>
<text class="xl" x="322.89" y="700.00">19</text>
<text class="xl" x="347.27" y="700.00">20</text>
<text class="xl" x="371.64" y="700.00">23</text>
<text class="xl" x="396.02" y="700.00">24</text>
<text class="xl" x="420.40" y="700.00">25</text>
<text class="xl" x="444.77" y="700.00">26</text>
<text class="xl" x="469.15" y="700.00">27</text>
<text class="xl" x="493.52" y="700.00">30</text>
</g></g>
<rect x="9.00" y="415.00" width="9.7" height="9.4" fill="#ea4335"/>
<text class="leg halo" x="24.90" y="422.90" textLength="68.0" lengthAdjust="spacingAndGlyphs">Massachussetts</text>
<rect x="105.80" y="415.00" width="9.7" height="9.4" fill="#4285f4"/>
<text class="leg halo" x="121.60" y="422.90" textLength="73.7" lengthAdjust="spacingAndGlyphs">National Average</text>
<text class="cap" x="104.60" y="747.00" textLength="313.5" lengthAdjust="spacing">Fig. 5. Massachusetts March Construction Activity</text>
<clipPath id="clip3"><rect x="660.00" y="389.60" width="512.00" height="310.15"/></clipPath>
<g clip-path="url(#clip3)">
<line x1="660.00" x2="1172.00" y1="397.5" y2="397.5" stroke="#d8d8d8" stroke-width="1"/>
<line x1="660.00" x2="1172.00" y1="404.5" y2="404.5" stroke="#d8d8d8" stroke-width="1"/>
<line x1="660.00" x2="1172.00" y1="411.5" y2="411.5" stroke="#d8d8d8" stroke-width="1"/>
<line x1="660.00" x2="1172.00" y1="418.5" y2="418.5" stroke="#d8d8d8" stroke-width="1"/>
<line x1="660.00" x2="1172.00" y1="425.5" y2="425.5" stroke="#d8d8d8" stroke-width="1"/>
<line x1="660.00" x2="1172.00" y1="432.5" y2="432.5" stroke="#d8d8d8" stroke-width="1"/>
<line x1="660.00" x2="1172.00" y1="440.5" y2="440.5" stroke="#d8d8d8" stroke-width="1"/>
<line x1="660.00" x2="1172.00" y1="447.5" y2="447.5" stroke="#d8d8d8" stroke-width="1"/>
<line x1="660.00" x2="1172.00" y1="454.5" y2="454.5" stroke="#d8d8d8" stroke-width="1"/>
<line x1="660.00" x2="1172.00" y1="461.5" y2="461.5" stroke="#d8d8d8" stroke-width="1"/>
<line x1="660.00" x2="1172.00" y1="476.5" y2="476.5" stroke="#d8d8d8" stroke-width="1"/>
<line x1="660.00" x2="1172.00" y1="483.5" y2="483.5" stroke="#d8d8d8" stroke-width="1"/>
<line x1="660.00" x2="1172.00" y1="490.5" y2="490.5" stroke="#d8d8d8" stroke-width="1"/>
<line x1="660.00" x2="1172.00" y1="497.5" y2="497.5" stroke="#d8d8d8" stroke-width="1"/>
<line x1="660.00" x2="1172.00" y1="504.5" y2="504.5" stroke="#d8d8d8" stroke-width="1"/>
<line x1="660.00" x2="1172.00" y1="512.5" y2="512.5" stroke="#d8d8d8" stroke-width="1"/>
<line x1="660.00" x2="1172.00" y1="519.5" y2="519.5" stroke="#d8d8d8" stroke-width="1"/>
<line x1="660.00" x2="1172.00" y1="526.5" y2="526.5" stroke="#d8d8d8" stroke-width="1"/>
<line x1="660.00" x2="1172.00" y1="533.5" y2="533.5" stroke="#d8d8d8" stroke-width="1"/>
<line x1="660.00" x2="1172.00" y1="540.5" y2="540.5" stroke="#d8d8d8" stroke-width="1"/>
<line x1="660.00" x2="1172.00" y1="555.5" y2="555.5" stroke="#d8d8d8" stroke-width="1"/>
<line x1="660.00" x2="1172.00" y1="562.5" y2="562.5" stroke="#d8d8d8" stroke-width="1"/>
<line x1="660.00" x2="1172.00" y1="569.5" y2="569.5" stroke="#d8d8d8" stroke-width="1"/>
<line x1="660.00" x2="1172.00" y1="576.5" y2="576.5" stroke="#d8d8d8" stroke-width="1"/>
<line x1="660.00" x2="1172.00" y1="583.5" y2="583.5" stroke="#d8d8d8" stroke-width="1"/>
<line x1="660.00" x2="1172.00" y1="591.5" y2="591.5" stroke="#d8d8d8" stroke-width="1"/>
<line x1="660.00" x2="1172.00" y1="598.5" y2="598.5" stroke="#d8d8d8" stroke-width="1"/>
<line x1="660.00" x2="1172.00" y1="605.5" y2="605.5" stroke="#d8d8d8" stroke-width="1"/>
<line x1="660.00" x2="1172.00" y1="612.5" y2="612.5" stroke="#d8d8d8" stroke-width="1"/>
<line x1="660.00" x2="1172.00" y1="619.5" y2="619.5" stroke="#d8d8d8" stroke-width="1"/>
<line x1="660.00" x2="1172.00" y1="634.5" y2="634.5" stroke="#d8d8d8" stroke-width="1"/>
<line x1="660.00" x2="1172.00" y1="641.5" y2="641.5" stroke="#d8d8d8" stroke-width="1"/>
<line x1="660.00" x2="1172.00" y1="648.5" y2="648.5" stroke="#d8d8d8" stroke-width="1"/>
<line x1="660.00" x2="1172.00" y1="655.5" y2="655.5" stroke="#d8d8d8" stroke-width="1"/>
<line x1="660.00" x2="1172.00" y1="663.5" y2="663.5" stroke="#d8d8d8" stroke-width="1"/>
<line x1="660.00" x2="1172.00" y1="670.5" y2="670.5" stroke="#d8d8d8" stroke-width="1"/>
<line x1="660.00" x2="1172.00" y1="677.5" y2="677.5" stroke="#d8d8d8" stroke-width="1"/>
<line x1="660.00" x2="1172.00" y1="684.5" y2="684.5" stroke="#d8d8d8" stroke-width="1"/>
<line x1="660.00" x2="1172.00" y1="692.5" y2="692.5" stroke="#d8d8d8" stroke-width="1"/>
<line x1="660.00" x2="1172.00" y1="699.5" y2="699.5" stroke="#d8d8d8" stroke-width="1"/>
<line x1="660.00" x2="1172.00" y1="390.40" y2="390.40" stroke="#2a2a2a" stroke-width="1.3"/>
<line x1="660.00" x2="1172.00" y1="469.00" y2="469.00" stroke="#9a9a9a" stroke-width="1.9"/>
<line x1="660.00" x2="1172.00" y1="627.00" y2="627.00" stroke="#9a9a9a" stroke-width="1.9"/>
<line x1="660.00" x2="1172.00" y1="548.50" y2="548.50" stroke="#505050" stroke-width="1"/>
<path d="M660.00,547.80C660.00,547.80 676.25,544.48 684.38,544.80C692.51,545.12 700.63,549.95 708.76,549.70C716.89,549.45 725.02,544.30 733.14,543.30C741.27,542.30 749.40,543.97 757.52,543.70C765.65,543.43 773.78,541.02 781.90,541.70C790.03,542.38 798.16,546.78 806.29,547.80C814.41,548.82 822.54,547.92 830.67,547.80C838.79,547.68 846.92,545.57 855.05,547.10C863.17,548.63 871.30,554.67 879.43,557.00C887.56,559.33 895.68,561.02 903.81,561.10C911.94,561.18 920.06,559.67 928.19,557.50C936.32,555.33 944.44,549.38 952.57,548.10C960.70,546.82 968.83,548.52 976.95,549.80C985.08,551.08 993.21,553.93 1001.33,555.80C1009.46,557.67 1017.59,560.33 1025.71,561.00C1033.84,561.67 1041.97,561.70 1050.10,559.80C1058.22,557.90 1066.35,551.37 1074.48,549.60C1082.60,547.83 1090.73,549.03 1098.86,549.20C1106.98,549.37 1115.11,548.88 1123.24,550.60C1131.37,552.32 1139.49,559.17 1147.62,559.50C1155.75,559.83 1172.00,552.60 1172.00,552.60L1172.00,548.30L660.00,548.30Z" fill="#4285f4" fill-opacity="0.3"/>
<path d="M660.00,523.70C660.00,523.70 676.25,517.27 684.38,516.80C692.51,516.33 700.63,520.43 708.76,520.90C716.89,521.37 725.02,517.60 733.14,519.60C741.27,521.60 749.40,528.90 757.52,532.90C765.65,536.90 773.78,542.20 781.90,543.60C790.03,545.00 798.16,543.18 806.29,541.30C814.41,539.42 822.54,535.28 830.67,532.30C838.79,529.32 846.92,520.38 855.05,523.40C863.17,526.42 871.30,542.45 879.43,550.40C887.56,558.35 895.68,566.58 903.81,571.10C911.94,575.62 920.06,576.37 928.19,577.50C936.32,578.63 944.44,576.68 952.57,577.90C960.70,579.12 968.83,579.82 976.95,584.80C985.08,589.78 993.21,605.12 1001.33,607.80C1009.46,610.48 1017.59,603.58 1025.71,600.90C1033.84,598.22 1041.97,599.08 1050.10,591.70C1058.22,584.32 1066.35,558.13 1074.48,556.60C1082.60,555.07 1090.73,575.00 1098.86,582.50C1106.98,590.00 1115.11,592.88 1123.24,601.60C1131.37,610.32 1139.49,631.10 1147.62,634.80C1155.75,638.50 1172.00,623.80 1172.00,623.80L1172.00,552.60C1172.00,552.60 1155.75,559.83 1147.62,559.50C1139.49,559.17 1131.37,552.32 1123.24,550.60C1115.11,548.88 1106.98,549.37 1098.86,549.20C1090.73,549.03 1082.60,547.83 1074.48,549.60C1066.35,551.37 1058.22,557.90 1050.10,559.80C1041.97,561.70 1033.84,561.67 1025.71,561.00C1017.59,560.33 1009.46,557.67 1001.33,555.80C993.21,553.93 985.08,551.08 976.95,549.80C968.83,548.52 960.70,546.82 952.57,548.10C944.44,549.38 936.32,555.33 928.19,557.50C920.06,559.67 911.94,561.18 903.81,561.10C895.68,561.02 887.56,559.33 879.43,557.00C871.30,554.67 863.17,548.63 855.05,547.10C846.92,545.57 838.79,547.68 830.67,547.80C822.54,547.92 814.41,548.82 806.29,547.80C798.16,546.78 790.03,542.38 781.90,541.70C773.78,541.02 765.65,543.43 757.52,543.70C749.40,543.97 741.27,542.30 733.14,543.30C725.02,544.30 716.89,549.45 708.76,549.70C700.63,549.95 692.51,545.12 684.38,544.80C676.25,544.48 660.00,547.80 660.00,547.80Z" fill="#ea4335" fill-opacity="0.3"/>
<path d="M660.00,547.80C660.00,547.80 676.25,544.48 684.38,544.80C692.51,545.12 700.63,549.95 708.76,549.70C716.89,549.45 725.02,544.30 733.14,543.30C741.27,542.30 749.40,543.97 757.52,543.70C765.65,543.43 773.78,541.02 781.90,541.70C790.03,542.38 798.16,546.78 806.29,547.80C814.41,548.82 822.54,547.92 830.67,547.80C838.79,547.68 846.92,545.57 855.05,547.10C863.17,548.63 871.30,554.67 879.43,557.00C887.56,559.33 895.68,561.02 903.81,561.10C911.94,561.18 920.06,559.67 928.19,557.50C936.32,555.33 944.44,549.38 952.57,548.10C960.70,546.82 968.83,548.52 976.95,549.80C985.08,551.08 993.21,553.93 1001.33,555.80C1009.46,557.67 1017.59,560.33 1025.71,561.00C1033.84,561.67 1041.97,561.70 1050.10,559.80C1058.22,557.90 1066.35,551.37 1074.48,549.60C1082.60,547.83 1090.73,549.03 1098.86,549.20C1106.98,549.37 1115.11,548.88 1123.24,550.60C1131.37,552.32 1139.49,559.17 1147.62,559.50C1155.75,559.83 1172.00,552.60 1172.00,552.60" fill="none" stroke="#4285f4" stroke-width="1.65" stroke-linejoin="round"/>
<path d="M660.00,523.70C660.00,523.70 676.25,517.27 684.38,516.80C692.51,516.33 700.63,520.43 708.76,520.90C716.89,521.37 725.02,517.60 733.14,519.60C741.27,521.60 749.40,528.90 757.52,532.90C765.65,536.90 773.78,542.20 781.90,543.60C790.03,545.00 798.16,543.18 806.29,541.30C814.41,539.42 822.54,535.28 830.67,532.30C838.79,529.32 846.92,520.38 855.05,523.40C863.17,526.42 871.30,542.45 879.43,550.40C887.56,558.35 895.68,566.58 903.81,571.10C911.94,575.62 920.06,576.37 928.19,577.50C936.32,578.63 944.44,576.68 952.57,577.90C960.70,579.12 968.83,579.82 976.95,584.80C985.08,589.78 993.21,605.12 1001.33,607.80C1009.46,610.48 1017.59,603.58 1025.71,600.90C1033.84,598.22 1041.97,599.08 1050.10,591.70C1058.22,584.32 1066.35,558.13 1074.48,556.60C1082.60,555.07 1090.73,575.00 1098.86,582.50C1106.98,590.00 1115.11,592.88 1123.24,601.60C1131.37,610.32 1139.49,631.10 1147.62,634.80C1155.75,638.50 1172.00,623.80 1172.00,623.80" fill="none" stroke="#ea4335" stroke-width="1.65" stroke-linejoin="round"/>
</g>
<g class="hl"><use href="#txt3"/></g>
<g class="bd"><g id="txt3">
<text class="ttl" x="663.50" y="406.10" textLength="301.9" lengthAdjust="spacingAndGlyphs">Washington March Construction Activity Index</text>
<text class="yl" x="664.40" y="480.50">50%</text>
<text class="yl" x="664.40" y="559.55">0%</text>
<text class="yl" x="664.40" y="638.60">-50%</text>
<text class="xl" x="684.38" y="700.00">3</text>
<text class="xl" x="708.76" y="700.00">4</text>
<text class="xl" x="733.14" y="700.00">5</text>
<text class="xl" x="757.52" y="700.00">6</text>
<text class="xl" x="781.90" y="700.00">9</text>
<text class="xl" x="806.29" y="700.00">10</text>
<text class="xl" x="830.67" y="700.00">11</text>
<text class="xl" x="855.05" y="700.00">12</text>
<text class="xl" x="879.43" y="700.00">13</text>
<text class="xl" x="903.81" y="700.00">16</text>
<text class="xl" x="928.19" y="700.00">17</text>
<text class="xl" x="952.57" y="700.00">18</text>
<text class="xl" x="976.95" y="700.00">19</text>
<text class="xl" x="1001.33" y="700.00">20</text>
<text class="xl" x="1025.71" y="700.00">23</text>
<text class="xl" x="1050.10" y="700.00">24</text>
<text class="xl" x="1074.48" y="700.00">25</text>
<text class="xl" x="1098.86" y="700.00">26</text>
<text class="xl" x="1123.24" y="700.00">27</text>
<text class="xl" x="1147.62" y="700.00">30</text>
</g></g>
<rect x="663.10" y="415.80" width="9.7" height="9.4" fill="#ea4335"/>
<text class="leg halo" x="679.10" y="423.70" textLength="50.8" lengthAdjust="spacingAndGlyphs">Washington</text>
<rect x="742.70" y="415.80" width="9.7" height="9.4" fill="#4285f4"/>
<text class="leg halo" x="758.60" y="423.70" textLength="73.8" lengthAdjust="spacingAndGlyphs">National Average</text>
<text class="cap" x="766.60" y="747.00" textLength="298.1" lengthAdjust="spacing">Fig. 6. Washington March Construction Activity</text>
<clipPath id="clip4"><rect x="6.00" y="773.80" width="511.90" height="310.95"/></clipPath>
<g clip-path="url(#clip4)">
<line x1="6.00" x2="517.90" y1="781.5" y2="781.5" stroke="#d8d8d8" stroke-width="1"/>
<line x1="6.00" x2="517.90" y1="788.5" y2="788.5" stroke="#d8d8d8" stroke-width="1"/>
<line x1="6.00" x2="517.90" y1="795.5" y2="795.5" stroke="#d8d8d8" stroke-width="1"/>
<line x1="6.00" x2="517.90" y1="802.5" y2="802.5" stroke="#d8d8d8" stroke-width="1"/>
<line x1="6.00" x2="517.90" y1="810.5" y2="810.5" stroke="#d8d8d8" stroke-width="1"/>
<line x1="6.00" x2="517.90" y1="817.5" y2="817.5" stroke="#d8d8d8" stroke-width="1"/>
<line x1="6.00" x2="517.90" y1="824.5" y2="824.5" stroke="#d8d8d8" stroke-width="1"/>
<line x1="6.00" x2="517.90" y1="831.5" y2="831.5" stroke="#d8d8d8" stroke-width="1"/>
<line x1="6.00" x2="517.90" y1="838.5" y2="838.5" stroke="#d8d8d8" stroke-width="1"/>
<line x1="6.00" x2="517.90" y1="846.5" y2="846.5" stroke="#d8d8d8" stroke-width="1"/>
<line x1="6.00" x2="517.90" y1="860.5" y2="860.5" stroke="#d8d8d8" stroke-width="1"/>
<line x1="6.00" x2="517.90" y1="867.5" y2="867.5" stroke="#d8d8d8" stroke-width="1"/>
<line x1="6.00" x2="517.90" y1="874.5" y2="874.5" stroke="#d8d8d8" stroke-width="1"/>
<line x1="6.00" x2="517.90" y1="882.5" y2="882.5" stroke="#d8d8d8" stroke-width="1"/>
<line x1="6.00" x2="517.90" y1="889.5" y2="889.5" stroke="#d8d8d8" stroke-width="1"/>
<line x1="6.00" x2="517.90" y1="896.5" y2="896.5" stroke="#d8d8d8" stroke-width="1"/>
<line x1="6.00" x2="517.90" y1="903.5" y2="903.5" stroke="#d8d8d8" stroke-width="1"/>
<line x1="6.00" x2="517.90" y1="910.5" y2="910.5" stroke="#d8d8d8" stroke-width="1"/>
<line x1="6.00" x2="517.90" y1="918.5" y2="918.5" stroke="#d8d8d8" stroke-width="1"/>
<line x1="6.00" x2="517.90" y1="925.5" y2="925.5" stroke="#d8d8d8" stroke-width="1"/>
<line x1="6.00" x2="517.90" y1="939.5" y2="939.5" stroke="#d8d8d8" stroke-width="1"/>
<line x1="6.00" x2="517.90" y1="946.5" y2="946.5" stroke="#d8d8d8" stroke-width="1"/>
<line x1="6.00" x2="517.90" y1="953.5" y2="953.5" stroke="#d8d8d8" stroke-width="1"/>
<line x1="6.00" x2="517.90" y1="961.5" y2="961.5" stroke="#d8d8d8" stroke-width="1"/>
<line x1="6.00" x2="517.90" y1="968.5" y2="968.5" stroke="#d8d8d8" stroke-width="1"/>
<line x1="6.00" x2="517.90" y1="975.5" y2="975.5" stroke="#d8d8d8" stroke-width="1"/>
<line x1="6.00" x2="517.90" y1="982.5" y2="982.5" stroke="#d8d8d8" stroke-width="1"/>
<line x1="6.00" x2="517.90" y1="989.5" y2="989.5" stroke="#d8d8d8" stroke-width="1"/>
<line x1="6.00" x2="517.90" y1="997.5" y2="997.5" stroke="#d8d8d8" stroke-width="1"/>
<line x1="6.00" x2="517.90" y1="1004.5" y2="1004.5" stroke="#d8d8d8" stroke-width="1"/>
<line x1="6.00" x2="517.90" y1="1018.5" y2="1018.5" stroke="#d8d8d8" stroke-width="1"/>
<line x1="6.00" x2="517.90" y1="1026.5" y2="1026.5" stroke="#d8d8d8" stroke-width="1"/>
<line x1="6.00" x2="517.90" y1="1033.5" y2="1033.5" stroke="#d8d8d8" stroke-width="1"/>
<line x1="6.00" x2="517.90" y1="1040.5" y2="1040.5" stroke="#d8d8d8" stroke-width="1"/>
<line x1="6.00" x2="517.90" y1="1047.5" y2="1047.5" stroke="#d8d8d8" stroke-width="1"/>
<line x1="6.00" x2="517.90" y1="1055.5" y2="1055.5" stroke="#d8d8d8" stroke-width="1"/>
<line x1="6.00" x2="517.90" y1="1062.5" y2="1062.5" stroke="#d8d8d8" stroke-width="1"/>
<line x1="6.00" x2="517.90" y1="1069.5" y2="1069.5" stroke="#d8d8d8" stroke-width="1"/>
<line x1="6.00" x2="517.90" y1="1077.5" y2="1077.5" stroke="#d8d8d8" stroke-width="1"/>
<line x1="6.00" x2="517.90" y1="1084.5" y2="1084.5" stroke="#d8d8d8" stroke-width="1"/>
<line x1="6.00" x2="517.90" y1="774.60" y2="774.60" stroke="#2a2a2a" stroke-width="1.3"/>
<line x1="6.00" x2="517.90" y1="853.50" y2="853.50" stroke="#505050" stroke-width="1"/>
<line x1="6.00" x2="517.90" y1="1011.50" y2="1011.50" stroke="#505050" stroke-width="1"/>
<line x1="6.00" x2="517.90" y1="933.00" y2="933.00" stroke="#9a9a9a" stroke-width="1.9"/>
<path d="M6.00,932.30C6.00,932.30 22.25,928.98 30.38,929.30C38.50,929.62 46.63,934.45 54.75,934.20C62.88,933.95 71.00,928.80 79.13,927.80C87.25,926.80 95.38,928.47 103.50,928.20C111.63,927.93 119.76,925.52 127.88,926.20C136.01,926.88 144.13,931.28 152.26,932.30C160.38,933.32 168.51,932.42 176.63,932.30C184.76,932.18 192.88,930.07 201.01,931.60C209.13,933.13 217.26,939.17 225.39,941.50C233.51,943.83 241.64,945.52 249.76,945.60C257.89,945.68 266.01,944.17 274.14,942.00C282.26,939.83 290.39,933.88 298.51,932.60C306.64,931.32 314.77,933.02 322.89,934.30C331.02,935.58 339.14,938.43 347.27,940.30C355.39,942.17 363.52,944.83 371.64,945.50C379.77,946.17 387.89,946.20 396.02,944.30C404.14,942.40 412.27,935.87 420.40,934.10C428.52,932.33 436.65,933.53 444.77,933.70C452.90,933.87 461.02,933.38 469.15,935.10C477.27,936.82 485.40,943.67 493.52,944.00C501.65,944.33 517.90,937.10 517.90,937.10L517.90,932.80L6.00,932.80Z" fill="#4285f4" fill-opacity="0.3"/>
<path d="M6.00,900.70C6.00,900.70 22.25,921.20 30.38,922.40C38.50,923.60 46.63,909.30 54.75,907.90C62.88,906.50 71.00,915.70 79.13,914.00C87.25,912.30 95.38,895.97 103.50,897.70C111.63,899.43 119.76,919.32 127.88,924.40C136.01,929.48 144.13,926.25 152.26,928.20C160.38,930.15 168.51,937.85 176.63,936.10C184.76,934.35 192.88,916.75 201.01,917.70C209.13,918.65 217.26,936.13 225.39,941.80C233.51,947.47 241.64,945.38 249.76,951.70C257.89,958.02 266.01,980.20 274.14,979.70C282.26,979.20 290.39,953.48 298.51,948.70C306.64,943.92 314.77,951.98 322.89,951.00C331.02,950.02 339.14,939.60 347.27,942.80C355.39,946.00 363.52,964.48 371.64,970.20C379.77,975.92 387.89,978.12 396.02,977.10C404.14,976.08 412.27,967.73 420.40,964.10C428.52,960.47 436.65,957.20 444.77,955.30C452.90,953.40 461.02,948.05 469.15,952.70C477.27,957.35 485.40,975.32 493.52,983.20C501.65,991.08 517.90,1000.00 517.90,1000.00L517.90,932.80L6.00,932.80Z" fill="#ea4335" fill-opacity="0.3"/>
<path d="M6.00,932.30C6.00,932.30 22.25,928.98 30.38,929.30C38.50,929.62 46.63,934.45 54.75,934.20C62.88,933.95 71.00,928.80 79.13,927.80C87.25,926.80 95.38,928.47 103.50,928.20C111.63,927.93 119.76,925.52 127.88,926.20C136.01,926.88 144.13,931.28 152.26,932.30C160.38,933.32 168.51,932.42 176.63,932.30C184.76,932.18 192.88,930.07 201.01,931.60C209.13,933.13 217.26,939.17 225.39,941.50C233.51,943.83 241.64,945.52 249.76,945.60C257.89,945.68 266.01,944.17 274.14,942.00C282.26,939.83 290.39,933.88 298.51,932.60C306.64,931.32 314.77,933.02 322.89,934.30C331.02,935.58 339.14,938.43 347.27,940.30C355.39,942.17 363.52,944.83 371.64,945.50C379.77,946.17 387.89,946.20 396.02,944.30C404.14,942.40 412.27,935.87 420.40,934.10C428.52,932.33 436.65,933.53 444.77,933.70C452.90,933.87 461.02,933.38 469.15,935.10C477.27,936.82 485.40,943.67 493.52,944.00C501.65,944.33 517.90,937.10 517.90,937.10" fill="none" stroke="#4285f4" stroke-width="1.65" stroke-linejoin="round"/>
<path d="M6.00,900.70C6.00,900.70 22.25,921.20 30.38,922.40C38.50,923.60 46.63,909.30 54.75,907.90C62.88,906.50 71.00,915.70 79.13,914.00C87.25,912.30 95.38,895.97 103.50,897.70C111.63,899.43 119.76,919.32 127.88,924.40C136.01,929.48 144.13,926.25 152.26,928.20C160.38,930.15 168.51,937.85 176.63,936.10C184.76,934.35 192.88,916.75 201.01,917.70C209.13,918.65 217.26,936.13 225.39,941.80C233.51,947.47 241.64,945.38 249.76,951.70C257.89,958.02 266.01,980.20 274.14,979.70C282.26,979.20 290.39,953.48 298.51,948.70C306.64,943.92 314.77,951.98 322.89,951.00C331.02,950.02 339.14,939.60 347.27,942.80C355.39,946.00 363.52,964.48 371.64,970.20C379.77,975.92 387.89,978.12 396.02,977.10C404.14,976.08 412.27,967.73 420.40,964.10C428.52,960.47 436.65,957.20 444.77,955.30C452.90,953.40 461.02,948.05 469.15,952.70C477.27,957.35 485.40,975.32 493.52,983.20C501.65,991.08 517.90,1000.00 517.90,1000.00" fill="none" stroke="#ea4335" stroke-width="1.65" stroke-linejoin="round"/>
</g>
<g class="hl"><use href="#txt4"/></g>
<g class="bd"><g id="txt4">
<text class="ttl" x="9.70" y="790.30" textLength="287.2" lengthAdjust="spacingAndGlyphs">New York March Construction Activity Index</text>
<text class="yl" x="10.40" y="864.90">50%</text>
<text class="yl" x="10.40" y="944.00">0%</text>
<text class="yl" x="10.40" y="1023.10">-50%</text>
<text class="xl" x="30.38" y="1085.00">3</text>
<text class="xl" x="54.75" y="1085.00">4</text>
<text class="xl" x="79.13" y="1085.00">5</text>
<text class="xl" x="103.50" y="1085.00">6</text>
<text class="xl" x="127.88" y="1085.00">9</text>
<text class="xl" x="152.26" y="1085.00">10</text>
<text class="xl" x="176.63" y="1085.00">11</text>
<text class="xl" x="201.01" y="1085.00">12</text>
<text class="xl" x="225.39" y="1085.00">13</text>
<text class="xl" x="249.76" y="1085.00">16</text>
<text class="xl" x="274.14" y="1085.00">17</text>
<text class="xl" x="298.51" y="1085.00">18</text>
<text class="xl" x="322.89" y="1085.00">19</text>
<text class="xl" x="347.27" y="1085.00">20</text>
<text class="xl" x="371.64" y="1085.00">23</text>
<text class="xl" x="396.02" y="1085.00">24</text>
<text class="xl" x="420.40" y="1085.00">25</text>
<text class="xl" x="444.77" y="1085.00">26</text>
<text class="xl" x="469.15" y="1085.00">27</text>
<text class="xl" x="493.52" y="1085.00">30</text>
</g></g>
<rect x="9.80" y="800.00" width="9.7" height="9.4" fill="#ea4335"/>
<text class="leg halo" x="25.70" y="807.90" textLength="42.3" lengthAdjust="spacingAndGlyphs">New York</text>
<rect x="85.10" y="800.00" width="9.7" height="9.4" fill="#4285f4"/>
<text class="leg halo" x="100.90" y="807.90" textLength="74.0" lengthAdjust="spacingAndGlyphs">National Average</text>
<text class="cap" x="121.60" y="1132.00" textLength="279.9" lengthAdjust="spacing">Fig. 7. New York March Construction Activity</text>
<clipPath id="clip5"><rect x="660.00" y="773.80" width="512.00" height="310.95"/></clipPath>
<g clip-path="url(#clip5)">
<line x1="660.00" x2="1172.00" y1="781.5" y2="781.5" stroke="#d8d8d8" stroke-width="1"/>
<line x1="660.00" x2="1172.00" y1="788.5" y2="788.5" stroke="#d8d8d8" stroke-width="1"/>
<line x1="660.00" x2="1172.00" y1="795.5" y2="795.5" stroke="#d8d8d8" stroke-width="1"/>
<line x1="660.00" x2="1172.00" y1="802.5" y2="802.5" stroke="#d8d8d8" stroke-width="1"/>
<line x1="660.00" x2="1172.00" y1="810.5" y2="810.5" stroke="#d8d8d8" stroke-width="1"/>
<line x1="660.00" x2="1172.00" y1="817.5" y2="817.5" stroke="#d8d8d8" stroke-width="1"/>
<line x1="660.00" x2="1172.00" y1="824.5" y2="824.5" stroke="#d8d8d8" stroke-width="1"/>
<line x1="660.00" x2="1172.00" y1="831.5" y2="831.5" stroke="#d8d8d8" stroke-width="1"/>
<line x1="660.00" x2="1172.00" y1="838.5" y2="838.5" stroke="#d8d8d8" stroke-width="1"/>
<line x1="660.00" x2="1172.00" y1="846.5" y2="846.5" stroke="#d8d8d8" stroke-width="1"/>
<line x1="660.00" x2="1172.00" y1="860.5" y2="860.5" stroke="#d8d8d8" stroke-width="1"/>
<line x1="660.00" x2="1172.00" y1="867.5" y2="867.5" stroke="#d8d8d8" stroke-width="1"/>
<line x1="660.00" x2="1172.00" y1="874.5" y2="874.5" stroke="#d8d8d8" stroke-width="1"/>
<line x1="660.00" x2="1172.00" y1="882.5" y2="882.5" stroke="#d8d8d8" stroke-width="1"/>
<line x1="660.00" x2="1172.00" y1="889.5" y2="889.5" stroke="#d8d8d8" stroke-width="1"/>
<line x1="660.00" x2="1172.00" y1="896.5" y2="896.5" stroke="#d8d8d8" stroke-width="1"/>
<line x1="660.00" x2="1172.00" y1="903.5" y2="903.5" stroke="#d8d8d8" stroke-width="1"/>
<line x1="660.00" x2="1172.00" y1="910.5" y2="910.5" stroke="#d8d8d8" stroke-width="1"/>
<line x1="660.00" x2="1172.00" y1="918.5" y2="918.5" stroke="#d8d8d8" stroke-width="1"/>
<line x1="660.00" x2="1172.00" y1="925.5" y2="925.5" stroke="#d8d8d8" stroke-width="1"/>
<line x1="660.00" x2="1172.00" y1="939.5" y2="939.5" stroke="#d8d8d8" stroke-width="1"/>
<line x1="660.00" x2="1172.00" y1="946.5" y2="946.5" stroke="#d8d8d8" stroke-width="1"/>
<line x1="660.00" x2="1172.00" y1="953.5" y2="953.5" stroke="#d8d8d8" stroke-width="1"/>
<line x1="660.00" x2="1172.00" y1="961.5" y2="961.5" stroke="#d8d8d8" stroke-width="1"/>
<line x1="660.00" x2="1172.00" y1="968.5" y2="968.5" stroke="#d8d8d8" stroke-width="1"/>
<line x1="660.00" x2="1172.00" y1="975.5" y2="975.5" stroke="#d8d8d8" stroke-width="1"/>
<line x1="660.00" x2="1172.00" y1="982.5" y2="982.5" stroke="#d8d8d8" stroke-width="1"/>
<line x1="660.00" x2="1172.00" y1="989.5" y2="989.5" stroke="#d8d8d8" stroke-width="1"/>
<line x1="660.00" x2="1172.00" y1="997.5" y2="997.5" stroke="#d8d8d8" stroke-width="1"/>
<line x1="660.00" x2="1172.00" y1="1004.5" y2="1004.5" stroke="#d8d8d8" stroke-width="1"/>
<line x1="660.00" x2="1172.00" y1="1018.5" y2="1018.5" stroke="#d8d8d8" stroke-width="1"/>
<line x1="660.00" x2="1172.00" y1="1026.5" y2="1026.5" stroke="#d8d8d8" stroke-width="1"/>
<line x1="660.00" x2="1172.00" y1="1033.5" y2="1033.5" stroke="#d8d8d8" stroke-width="1"/>
<line x1="660.00" x2="1172.00" y1="1040.5" y2="1040.5" stroke="#d8d8d8" stroke-width="1"/>
<line x1="660.00" x2="1172.00" y1="1047.5" y2="1047.5" stroke="#d8d8d8" stroke-width="1"/>
<line x1="660.00" x2="1172.00" y1="1055.5" y2="1055.5" stroke="#d8d8d8" stroke-width="1"/>
<line x1="660.00" x2="1172.00" y1="1062.5" y2="1062.5" stroke="#d8d8d8" stroke-width="1"/>
<line x1="660.00" x2="1172.00" y1="1069.5" y2="1069.5" stroke="#d8d8d8" stroke-width="1"/>
<line x1="660.00" x2="1172.00" y1="1077.5" y2="1077.5" stroke="#d8d8d8" stroke-width="1"/>
<line x1="660.00" x2="1172.00" y1="1084.5" y2="1084.5" stroke="#d8d8d8" stroke-width="1"/>
<line x1="660.00" x2="1172.00" y1="774.60" y2="774.60" stroke="#2a2a2a" stroke-width="1.3"/>
<line x1="660.00" x2="1172.00" y1="853.50" y2="853.50" stroke="#505050" stroke-width="1"/>
<line x1="660.00" x2="1172.00" y1="1011.50" y2="1011.50" stroke="#505050" stroke-width="1"/>
<line x1="660.00" x2="1172.00" y1="933.00" y2="933.00" stroke="#9a9a9a" stroke-width="1.9"/>
<path d="M660.00,932.30C660.00,932.30 676.25,928.98 684.38,929.30C692.51,929.62 700.63,934.45 708.76,934.20C716.89,933.95 725.02,928.80 733.14,927.80C741.27,926.80 749.40,928.47 757.52,928.20C765.65,927.93 773.78,925.52 781.90,926.20C790.03,926.88 798.16,931.28 806.29,932.30C814.41,933.32 822.54,932.42 830.67,932.30C838.79,932.18 846.92,930.07 855.05,931.60C863.17,933.13 871.30,939.17 879.43,941.50C887.56,943.83 895.68,945.52 903.81,945.60C911.94,945.68 920.06,944.17 928.19,942.00C936.32,939.83 944.44,933.88 952.57,932.60C960.70,931.32 968.83,933.02 976.95,934.30C985.08,935.58 993.21,938.43 1001.33,940.30C1009.46,942.17 1017.59,944.83 1025.71,945.50C1033.84,946.17 1041.97,946.20 1050.10,944.30C1058.22,942.40 1066.35,935.87 1074.48,934.10C1082.60,932.33 1090.73,933.53 1098.86,933.70C1106.98,933.87 1115.11,933.38 1123.24,935.10C1131.37,936.82 1139.49,943.67 1147.62,944.00C1155.75,944.33 1172.00,937.10 1172.00,937.10L1172.00,932.80L660.00,932.80Z" fill="#4285f4" fill-opacity="0.3"/>
<path d="M660.00,964.90C660.00,964.90 676.25,962.75 684.38,961.10C692.51,959.45 700.63,957.63 708.76,955.00C716.89,952.37 725.02,945.68 733.14,945.30C741.27,944.92 749.40,951.55 757.52,952.70C765.65,953.85 773.78,950.35 781.90,952.20C790.03,954.05 798.16,966.35 806.29,963.80C814.41,961.25 822.54,942.40 830.67,936.90C838.79,931.40 846.92,932.40 855.05,930.80C863.17,929.20 871.30,927.70 879.43,927.30C887.56,926.90 895.68,928.78 903.81,928.40C911.94,928.02 920.06,929.18 928.19,925.00C936.32,920.82 944.44,908.77 952.57,903.30C960.70,897.83 968.83,888.65 976.95,892.20C985.08,895.75 993.21,914.93 1001.33,924.60C1009.46,934.27 1017.59,941.03 1025.71,950.20C1033.84,959.37 1041.97,977.05 1050.10,979.60C1058.22,982.15 1066.35,970.02 1074.48,965.50C1082.60,960.98 1090.73,953.27 1098.86,952.50C1106.98,951.73 1115.11,957.58 1123.24,960.90C1131.37,964.22 1139.49,970.53 1147.62,972.40C1155.75,974.27 1172.00,972.10 1172.00,972.10L1172.00,932.80L660.00,932.80Z" fill="#ea4335" fill-opacity="0.3"/>
<path d="M660.00,932.30C660.00,932.30 676.25,928.98 684.38,929.30C692.51,929.62 700.63,934.45 708.76,934.20C716.89,933.95 725.02,928.80 733.14,927.80C741.27,926.80 749.40,928.47 757.52,928.20C765.65,927.93 773.78,925.52 781.90,926.20C790.03,926.88 798.16,931.28 806.29,932.30C814.41,933.32 822.54,932.42 830.67,932.30C838.79,932.18 846.92,930.07 855.05,931.60C863.17,933.13 871.30,939.17 879.43,941.50C887.56,943.83 895.68,945.52 903.81,945.60C911.94,945.68 920.06,944.17 928.19,942.00C936.32,939.83 944.44,933.88 952.57,932.60C960.70,931.32 968.83,933.02 976.95,934.30C985.08,935.58 993.21,938.43 1001.33,940.30C1009.46,942.17 1017.59,944.83 1025.71,945.50C1033.84,946.17 1041.97,946.20 1050.10,944.30C1058.22,942.40 1066.35,935.87 1074.48,934.10C1082.60,932.33 1090.73,933.53 1098.86,933.70C1106.98,933.87 1115.11,933.38 1123.24,935.10C1131.37,936.82 1139.49,943.67 1147.62,944.00C1155.75,944.33 1172.00,937.10 1172.00,937.10" fill="none" stroke="#4285f4" stroke-width="1.65" stroke-linejoin="round"/>
<path d="M660.00,964.90C660.00,964.90 676.25,962.75 684.38,961.10C692.51,959.45 700.63,957.63 708.76,955.00C716.89,952.37 725.02,945.68 733.14,945.30C741.27,944.92 749.40,951.55 757.52,952.70C765.65,953.85 773.78,950.35 781.90,952.20C790.03,954.05 798.16,966.35 806.29,963.80C814.41,961.25 822.54,942.40 830.67,936.90C838.79,931.40 846.92,932.40 855.05,930.80C863.17,929.20 871.30,927.70 879.43,927.30C887.56,926.90 895.68,928.78 903.81,928.40C911.94,928.02 920.06,929.18 928.19,925.00C936.32,920.82 944.44,908.77 952.57,903.30C960.70,897.83 968.83,888.65 976.95,892.20C985.08,895.75 993.21,914.93 1001.33,924.60C1009.46,934.27 1017.59,941.03 1025.71,950.20C1033.84,959.37 1041.97,977.05 1050.10,979.60C1058.22,982.15 1066.35,970.02 1074.48,965.50C1082.60,960.98 1090.73,953.27 1098.86,952.50C1106.98,951.73 1115.11,957.58 1123.24,960.90C1131.37,964.22 1139.49,970.53 1147.62,972.40C1155.75,974.27 1172.00,972.10 1172.00,972.10" fill="none" stroke="#ea4335" stroke-width="1.65" stroke-linejoin="round"/>
</g>
<g class="hl"><use href="#txt5"/></g>
<g class="bd"><g id="txt5">
<text class="ttl" x="663.20" y="790.30" textLength="255.2" lengthAdjust="spacingAndGlyphs">Ohio March Construction Activity Index</text>
<text class="yl" x="664.40" y="864.90">50%</text>
<text class="yl" x="664.40" y="944.00">0%</text>
<text class="yl" x="664.40" y="1023.10">-50%</text>
<text class="xl" x="684.38" y="1085.00">3</text>
<text class="xl" x="708.76" y="1085.00">4</text>
<text class="xl" x="733.14" y="1085.00">5</text>
<text class="xl" x="757.52" y="1085.00">6</text>
<text class="xl" x="781.90" y="1085.00">9</text>
<text class="xl" x="806.29" y="1085.00">10</text>
<text class="xl" x="830.67" y="1085.00">11</text>
<text class="xl" x="855.05" y="1085.00">12</text>
<text class="xl" x="879.43" y="1085.00">13</text>
<text class="xl" x="903.81" y="1085.00">16</text>
<text class="xl" x="928.19" y="1085.00">17</text>
<text class="xl" x="952.57" y="1085.00">18</text>
<text class="xl" x="976.95" y="1085.00">19</text>
<text class="xl" x="1001.33" y="1085.00">20</text>
<text class="xl" x="1025.71" y="1085.00">23</text>
<text class="xl" x="1050.10" y="1085.00">24</text>
<text class="xl" x="1074.48" y="1085.00">25</text>
<text class="xl" x="1098.86" y="1085.00">26</text>
<text class="xl" x="1123.24" y="1085.00">27</text>
<text class="xl" x="1147.62" y="1085.00">30</text>
</g></g>
<rect x="665.30" y="800.00" width="9.7" height="9.4" fill="#ea4335"/>
<text class="leg halo" x="681.10" y="807.90" textLength="19.9" lengthAdjust="spacingAndGlyphs">Ohio</text>
<rect x="721.10" y="800.00" width="9.7" height="9.4" fill="#4285f4"/>
<text class="leg halo" x="737.00" y="807.90" textLength="73.8" lengthAdjust="spacingAndGlyphs">National Average</text>
<text class="cap" x="789.80" y="1132.00" textLength="251.9" lengthAdjust="spacing">Fig. 8. Ohio March Construction Activity</text>
</svg>
</body></html>
